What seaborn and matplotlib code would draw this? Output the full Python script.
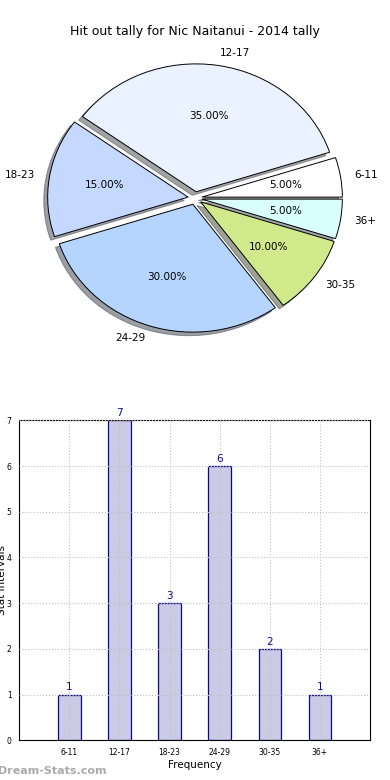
import matplotlib
matplotlib.use('Agg')
import pandas as pd
import seaborn as sns
from matplotlib import pyplot as plt

# data
intervals = ['6-11', '12-17', '18-23', '24-29', '30-35', '36+']
counts = [1, 7, 3, 6, 2, 1]
pie_colors = ['#ffffff', '#eaf1ff', '#c5d8ff', '#b5d5ff', '#cfe98b', '#d9ffff']

sns.set_style('white')
plt.rcParams['font.family'] = ['DejaVu Sans']
plt.rcParams['text.color'] = 'black'
plt.rcParams['axes.labelcolor'] = 'black'
plt.rcParams['xtick.color'] = 'black'
plt.rcParams['ytick.color'] = 'black'

fig = plt.figure(figsize=(3.9, 7.8), dpi=100)

# pie chart
ax1 = fig.add_axes([0.05, 0.541, 0.9, 0.41])
ax1.pie(counts, labels=intervals, colors=pie_colors, autopct='%.2f%%',
        explode=[0.05] * 6, shadow=True, startangle=0, counterclock=True,
        labeldistance=1.1, pctdistance=0.6,
        wedgeprops={'edgecolor': 'black', 'linewidth': 0.7},
        textprops={'fontsize': 7.5})
ax1.set_aspect('auto')
fig.text(0.5, 0.96, 'Hit out tally for Nic Naitanui - 2014 tally',
         ha='center', va='center', fontsize=9)

# bar chart
df = pd.DataFrame({'interval': intervals, 'count': counts})
ax2 = fig.add_axes([0.049, 0.051, 0.9, 0.41])
sns.barplot(data=df, x='interval', y='count', ax=ax2, color='#cbcbe5',
            edgecolor='#0a0a8a', linewidth=0.9, width=0.45, saturation=1)
ax2.set_xlim(-1, 6)
ax2.set_ylim(0, 7)
ax2.grid(True, linestyle=':', color='#c0c0c0', linewidth=0.8)
ax2.set_axisbelow(False)
for i, c in enumerate(counts):
    ax2.text(i, c + 0.05, str(c), ha='center', va='bottom', color='#0a0a8a', fontsize=7.5)
ax2.tick_params(labelsize=5.5, length=2)
ax2.set_xlabel('Frequency', fontsize=7.5, labelpad=2)
ax2.set_ylabel('Stat Intervals', fontsize=7.5, labelpad=0)
for s in ax2.spines.values():
    s.set_color('black')
    s.set_linewidth(0.8)

fig.text(-0.005, 0.012, 'Dream-Stats.com', fontsize=8, color='#aaaaaa',
         fontweight='bold', ha='left', va='center')

fig.savefig('out.png', dpi=100)
